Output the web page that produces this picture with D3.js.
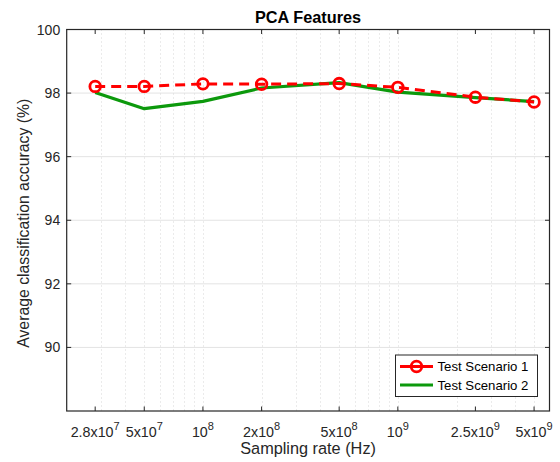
<!DOCTYPE html>
<html>
<head>
<meta charset="utf-8">
<script src="https://cdnjs.cloudflare.com/ajax/libs/d3/7.8.5/d3.min.js"></script>
<style>
html,body{margin:0;padding:0;background:#fff;}
svg{display:block;font-family:"Liberation Sans",Arial,Helvetica,sans-serif;}
</style>
</head>
<body>
<svg id="chart" width="560" height="462"></svg>
<script>
// ---- data ----
const sampleRates = [2.8e7, 5e7, 1e8, 2e8, 5e8, 1e9, 2.5e9, 5e9];
const tickMantissa = ["2.8", "5", "", "2", "5", "", "2.5", "5"];
const tickExponent = ["7", "7", "8", "8", "8", "9", "9", "9"];
const scenario1 = [98.21, 98.21, 98.29, 98.28, 98.30, 98.18, 97.87, 97.72];
const scenario2 = [98.02, 97.51, 97.74, 98.16, 98.33, 98.03, 97.86, 97.73];
const yTicks = [90, 92, 94, 96, 98, 100];
const seriesNames = ["Test Scenario 1", "Test Scenario 2"];
const minorGridValues = [3e7,4e7,5e7,6e7,7e7,8e7,9e7,1e8,2e8,3e8,4e8,5e8,6e8,7e8,8e8,9e8,1e9,2e9,3e9,4e9,5e9];

// ---- layout ----
const L = 66.7, R = 549.5, T = 29.5, B = 411;
const svg = d3.select("#chart");
const x = d3.scaleLog().domain([2e7, 6e9]).range([L, R]);
const y = d3.scaleLinear().domain([88, 100]).range([B, T]);
const axisColor = "#262626";

svg.append("rect").attr("x", L).attr("y", T).attr("width", R - L).attr("height", B - T).attr("fill", "#fff");

// horizontal grid
svg.append("g").selectAll("line").data(yTicks).join("line")
  .attr("x1", L).attr("x2", R)
  .attr("y1", d => y(d)).attr("y2", d => y(d))
  .attr("stroke", "#e3e3e3").attr("stroke-width", 1);

// vertical minor grid (dotted)
svg.append("g").selectAll("line").data(minorGridValues).join("line")
  .attr("x1", d => Math.round(x(d)) + 0.5).attr("x2", d => Math.round(x(d)) + 0.5)
  .attr("y1", T).attr("y2", B)
  .attr("stroke", "#d6d6d6").attr("stroke-width", 1).attr("stroke-dasharray", "1,3");

// lines
const line = d3.line().x((d, i) => x(sampleRates[i])).y(d => y(d));
svg.append("path").datum(scenario2).attr("d", line)
  .attr("fill", "none").attr("stroke", "#0c990c").attr("stroke-width", 3.2).attr("stroke-linejoin", "round");
svg.append("path").datum(scenario1).attr("d", line)
  .attr("fill", "none").attr("stroke", "#ff0000").attr("stroke-width", 3).attr("stroke-dasharray", "10,6");
svg.append("g").selectAll("circle").data(scenario1).join("circle")
  .attr("cx", (d, i) => x(sampleRates[i])).attr("cy", d => y(d)).attr("r", 5.3)
  .attr("fill", "none").attr("stroke", "#ff0000").attr("stroke-width", 2.8);

// axes box
svg.append("rect").attr("x", L).attr("y", T).attr("width", R - L).attr("height", B - T)
  .attr("fill", "none").attr("stroke", axisColor).attr("stroke-width", 1.2);

// x ticks (inward, bottom and top)
const xt = svg.append("g");
xt.selectAll("line.b").data(sampleRates).join("line").attr("class", "b")
  .attr("x1", d => x(d)).attr("x2", d => x(d)).attr("y1", B).attr("y2", B - 4.5)
  .attr("stroke", axisColor).attr("stroke-width", 1);
xt.selectAll("line.t").data(sampleRates).join("line").attr("class", "t")
  .attr("x1", d => x(d)).attr("x2", d => x(d)).attr("y1", T).attr("y2", T + 4.5)
  .attr("stroke", axisColor).attr("stroke-width", 1);

// y ticks (inward, left and right)
const yt = svg.append("g");
yt.selectAll("line.l").data(yTicks).join("line").attr("class", "l")
  .attr("x1", L).attr("x2", L + 4.5).attr("y1", d => y(d)).attr("y2", d => y(d))
  .attr("stroke", axisColor).attr("stroke-width", 1);
yt.selectAll("line.r").data(yTicks).join("line").attr("class", "r")
  .attr("x1", R).attr("x2", R - 4.5).attr("y1", d => y(d)).attr("y2", d => y(d))
  .attr("stroke", axisColor).attr("stroke-width", 1);

// y tick labels
svg.append("g").selectAll("text").data(yTicks).join("text")
  .attr("x", L - 6.5).attr("y", d => y(d)).attr("dy", "0.36em")
  .attr("text-anchor", "end").attr("font-size", 14).attr("fill", axisColor)
  .text(d => d);

// x tick labels with superscripts
const xl = svg.append("g");
sampleRates.forEach((v, i) => {
  const t = xl.append("text").attr("x", x(v)).attr("y", 437)
    .attr("text-anchor", "middle").attr("font-size", 14.3).attr("fill", axisColor);
  const base = tickMantissa[i] ? tickMantissa[i] + "x10" : "10";
  t.append("tspan").text(base);
  t.append("tspan").attr("dy", -7).attr("font-size", 11).text(tickExponent[i]);
});

// title
svg.append("text").attr("x", (L + R) / 2).attr("y", 23).attr("text-anchor", "middle")
  .attr("font-size", 16.3).attr("font-weight", "bold").attr("fill", "#000").text("PCA Features");

// axis labels
svg.append("text").attr("x", (L + R) / 2).attr("y", 454).attr("text-anchor", "middle")
  .attr("font-size", 16.3).attr("fill", axisColor).text("Sampling rate (Hz)");
svg.append("text").attr("transform", `translate(28.5,${(T + B) / 2 + 3}) rotate(-90)`)
  .attr("text-anchor", "middle").attr("font-size", 15.8).attr("fill", axisColor)
  .text("Average classification accuracy (%)");

// legend
const lg = svg.append("g");
lg.append("rect").attr("x", 395.5).attr("y", 355).attr("width", 142).attr("height", 41.5)
  .attr("fill", "#fff").attr("stroke", axisColor).attr("stroke-width", 1);
const rows = [366.5, 385];
lg.append("line").attr("x1", 400).attr("x2", 433).attr("y1", rows[0]).attr("y2", rows[0])
  .attr("stroke", "#ff0000").attr("stroke-width", 3);
lg.append("circle").attr("cx", 416.5).attr("cy", rows[0]).attr("r", 5.3)
  .attr("fill", "none").attr("stroke", "#ff0000").attr("stroke-width", 2.8);
lg.append("line").attr("x1", 400).attr("x2", 433).attr("y1", rows[1]).attr("y2", rows[1])
  .attr("stroke", "#0c990c").attr("stroke-width", 3.2);
lg.selectAll("text").data(seriesNames).join("text")
  .attr("x", 437.5).attr("y", (d, i) => rows[i]).attr("dy", "0.36em")
  .attr("font-size", 13.2).attr("fill", "#000").text(d => d);
</script>
</body>
</html>
